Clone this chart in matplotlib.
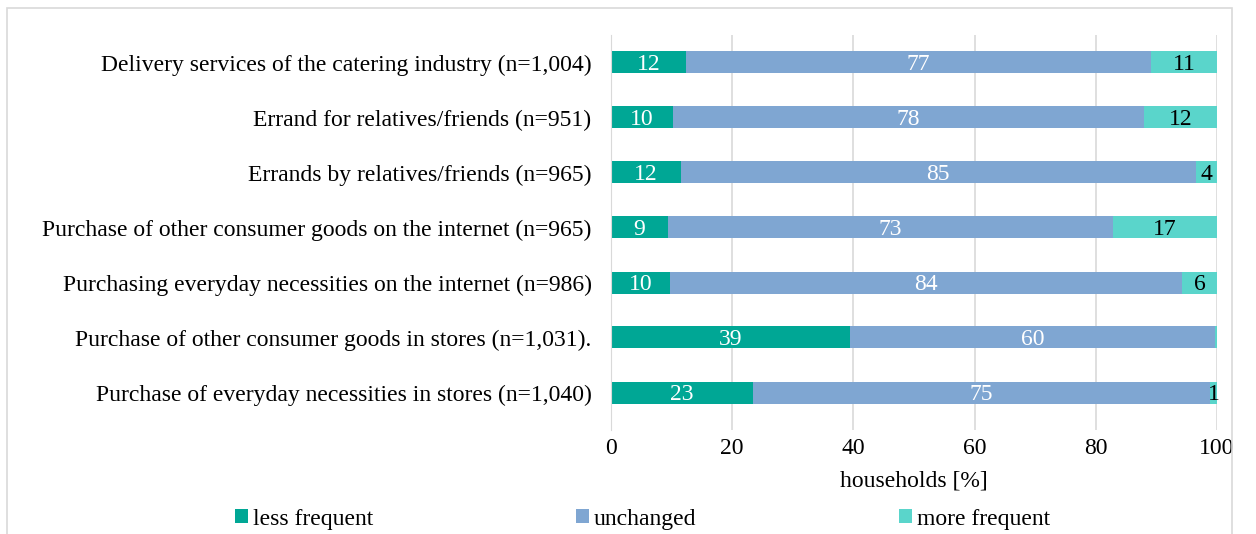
import matplotlib.pyplot as plt
from matplotlib.patches import Rectangle

plt.rcParams['font.family'] = ['Liberation Serif', 'DejaVu Serif']

categorias = [
    'Delivery services of the catering industry (n=1,004)',
    'Errand for relatives/friends (n=951)',
    'Errands by relatives/friends (n=965)',
    'Purchase of other consumer goods on the internet (n=965)',
    'Purchasing everyday necessities on the internet (n=986)',
    'Purchase of other consumer goods in stores (n=1,031).',
    'Purchase of everyday necessities in stores (n=1,040)',
]
menos = [12.4, 10.2, 11.5, 9.4, 9.7, 39.4, 23.4]
igual = [76.7, 77.7, 85.0, 73.4, 84.5, 60.3, 75.4]
mas = [10.9, 12.1, 3.5, 17.2, 5.8, 0.3, 1.2]
etiq_menos = ['12', '10', '12', '9', '10', '39', '23']
etiq_igual = ['77', '78', '85', '73', '84', '60', '75']
etiq_mas = ['11', '12', '4', '17', '6', '', '1']

series = [
    ('less frequent', menos, etiq_menos, '#00A795', 'white'),
    ('unchanged', igual, etiq_igual, '#7FA6D2', 'white'),
    ('more frequent', mas, etiq_mas, '#5AD5CB', 'black'),
]

TAM = 17


def main():
    fig = plt.figure(figsize=(12.56, 5.34), dpi=100)
    ax = fig.add_axes([611 / 1256, 1 - 430 / 534, 606 / 1256, 395 / 534])

    y = list(range(len(categorias)))
    izq = [0] * len(categorias)
    for nombre, valores, etiquetas, color, color_txt in series:
        barras = ax.barh(y, valores, left=izq, height=0.4, color=color,
                         label=nombre, zorder=3)
        textos = ax.bar_label(barras, labels=etiquetas, label_type='center',
                              color=color_txt, fontsize=TAM)
        for t in textos:
            t.set_verticalalignment('center_baseline')
        izq = [a + b for a, b in zip(izq, valores)]

    ax.set_yticks(y)
    ax.set_yticklabels(categorias, fontsize=TAM)
    ax.set_ylim(len(categorias) - 0.5 + 10 / 55, -0.5)
    ax.set_xlim(0, 100)
    ax.set_xticks([0, 20, 40, 60, 80, 100])
    ax.tick_params(axis='both', length=0, labelsize=TAM)
    ax.tick_params(axis='y', pad=14)
    ax.tick_params(axis='x', pad=6)
    ax.set_xlabel('households [%]', fontsize=TAM, labelpad=8)
    ax.grid(axis='x', color='#d9d9d9', linewidth=1.2, zorder=0)
    for lado in ['top', 'right', 'bottom']:
        ax.spines[lado].set_visible(False)
    ax.spines['left'].set_color('#d9d9d9')
    ax.spines['left'].set_zorder(4)

    fig.legend(loc='center', bbox_to_anchor=(0.5116, 1 - 519 / 534), ncol=3,
               frameon=False, fontsize=TAM, handlelength=0.55,
               handleheight=0.55, handletextpad=0.2, columnspacing=8.6)

    fig.patches.append(Rectangle((7 / 1256, -0.05), 1225 / 1256, 1.05 - 8 / 534,
                                 transform=fig.transFigure, fill=False,
                                 edgecolor='#d9d9d9', linewidth=1.2))
    fig.savefig('out.png', dpi=100)


if __name__ == '__main__':
    main()
